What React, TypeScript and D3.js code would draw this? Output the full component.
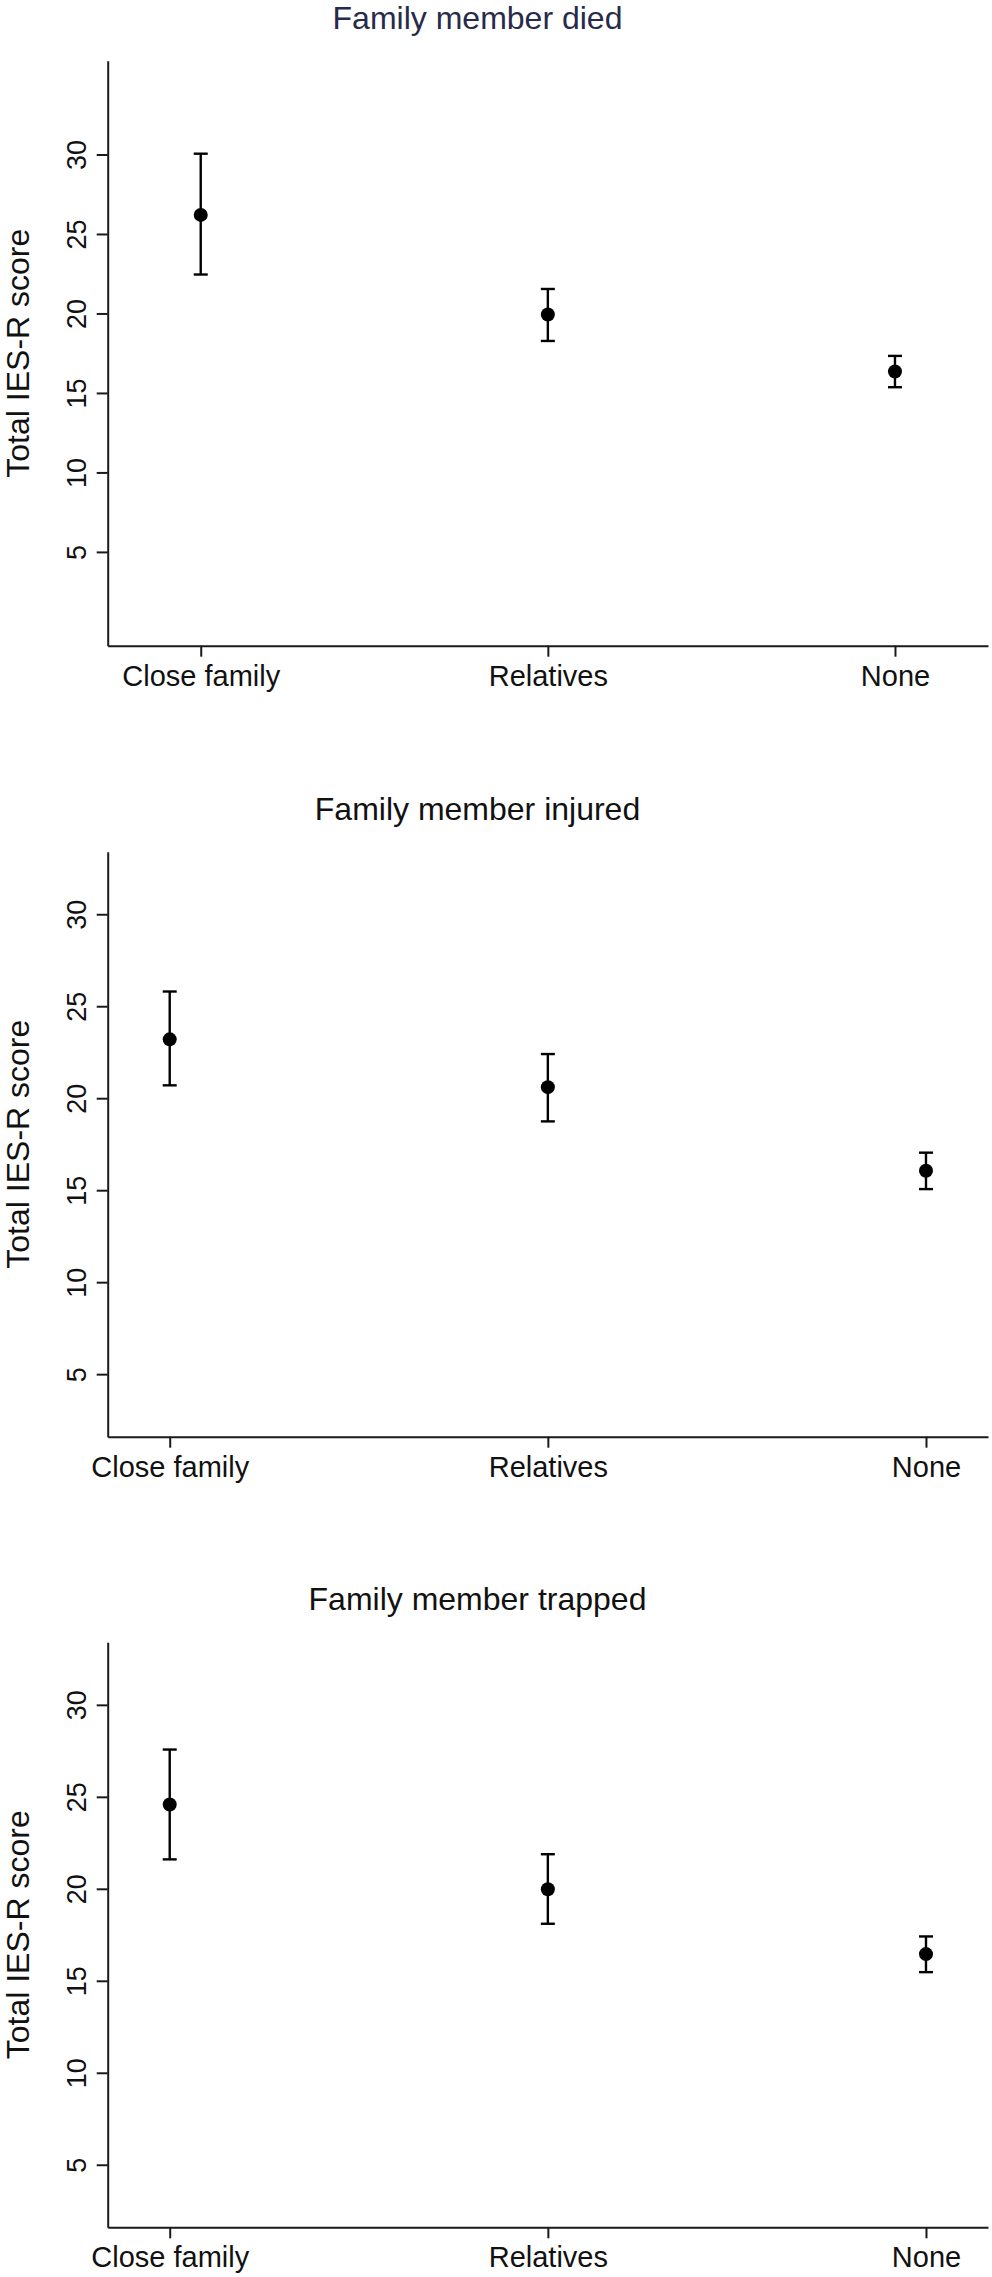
import { useEffect, useRef } from "react"
import * as d3 from "d3"

const WIDTH = 992
const HEIGHT = 2277
const FONT = "'Liberation Sans', Arial, Helvetica, sans-serif"

const categories = ["Close family", "Relatives", "None"]
const panelTitles = ["Family member died", "Family member injured", "Family member trapped"]
const yTicks = [5, 10, 15, 20, 25, 30]
const yLabel = "Total IES-R score"

// mean and 95% CI per category
const diedMean = [26.2, 19.93, 16.35]
const diedLow = [22.45, 18.27, 15.36]
const diedHigh = [30.05, 21.54, 17.33]

const injuredMean = [23.2, 20.6, 16.06]
const injuredLow = [20.7, 18.74, 15.06]
const injuredHigh = [25.8, 22.4, 17.04]

const trappedMean = [24.58, 19.98, 16.45]
const trappedLow = [21.6, 18.1, 15.47]
const trappedHigh = [27.57, 21.88, 17.41]

const yDomains: [number, number][] = [
  [-0.9, 35.9],
  [1.6, 33.4],
  [1.6, 33.4],
]

// layout per panel
const panels = [
  { top: 60.7, xPad: 0.268, titleColor: "#272b4a" },
  { top: 851.7, xPad: 0.164, titleColor: "#111" },
  { top: 1642.3, xPad: 0.164, titleColor: "#111" },
]
const axisHeight = 585
const left = 107.7
const right = 988

interface Row {
  cat: string
  mean: number
  low: number
  high: number
}

const series = [
  { mean: diedMean, low: diedLow, high: diedHigh },
  { mean: injuredMean, low: injuredLow, high: injuredHigh },
  { mean: trappedMean, low: trappedLow, high: trappedHigh },
]

export default function App() {
  const svgRef = useRef<SVGSVGElement | null>(null)

  useEffect(() => {
    if (!svgRef.current) return
    const svg = d3.select(svgRef.current)
    svg.selectAll("*").remove()

    panels.forEach((p, pi) => {
      const bottom = p.top + axisHeight
      const x = d3.scalePoint<string>().domain(categories).range([left, right]).padding(p.xPad)
      const y = d3.scaleLinear().domain(yDomains[pi]).range([bottom, p.top])
      const s = series[pi]
      const rows: Row[] = categories.map((c, i) => ({ cat: c, mean: s.mean[i], low: s.low[i], high: s.high[i] }))

      const g = svg.append("g").attr("class", `panel-${pi}`)

      g.append("text")
        .attr("x", 477.5)
        .attr("y", p.top - 32)
        .attr("text-anchor", "middle")
        .style("font-family", FONT)
        .style("font-size", "32px")
        .style("fill", p.titleColor)
        .text(panelTitles[pi])

      const yAxis = g
        .append("g")
        .attr("transform", `translate(${left},0)`)
        .call(d3.axisLeft(y).tickValues(yTicks).tickSize(11).tickSizeOuter(0))
      yAxis.select("path.domain").attr("stroke", "#1a1a1a").attr("stroke-width", 2)
      yAxis.selectAll(".tick line").attr("stroke", "#1a1a1a").attr("stroke-width", 2)
      yAxis
        .selectAll<SVGTextElement, number>(".tick text")
        .attr("x", 0)
        .attr("y", -21.7)
        .attr("dy", null)
        .attr("transform", "rotate(-90)")
        .attr("text-anchor", "middle")
        .style("font-family", FONT)
        .style("font-size", "27px")
        .style("fill", "#111")

      const xAxis = g
        .append("g")
        .attr("transform", `translate(0,${bottom})`)
        .call(d3.axisBottom(x).tickSize(11).tickSizeOuter(0))
      xAxis.select("path.domain").attr("stroke", "#1a1a1a").attr("stroke-width", 2)
      xAxis.selectAll(".tick line").attr("stroke", "#1a1a1a").attr("stroke-width", 2)
      xAxis
        .selectAll(".tick text")
        .attr("y", 40)
        .attr("dy", null)
        .style("font-family", FONT)
        .style("font-size", "29px")
        .style("fill", "#111")

      g.append("text")
        .attr("transform", `translate(29,${(p.top + bottom) / 2}) rotate(-90)`)
        .attr("text-anchor", "middle")
        .style("font-family", FONT)
        .style("font-size", "32px")
        .style("fill", "#111")
        .text(yLabel)

      const marks = g.append("g").attr("class", "marks")
      const bar = marks.selectAll("g.bar").data(rows).join("g").attr("class", "bar")
      bar
        .append("line")
        .attr("x1", (d) => x(d.cat)!)
        .attr("x2", (d) => x(d.cat)!)
        .attr("y1", (d) => y(d.low))
        .attr("y2", (d) => y(d.high))
        .attr("stroke", "#000")
        .attr("stroke-width", 2.4)
      bar
        .selectAll("line.cap")
        .data((d) => [
          { cat: d.cat, v: d.low },
          { cat: d.cat, v: d.high },
        ])
        .join("line")
        .attr("class", "cap")
        .attr("x1", (d) => x(d.cat)! - 7)
        .attr("x2", (d) => x(d.cat)! + 7)
        .attr("y1", (d) => y(d.v))
        .attr("y2", (d) => y(d.v))
        .attr("stroke", "#000")
        .attr("stroke-width", 2.4)
      bar
        .append("circle")
        .attr("cx", (d) => x(d.cat)!)
        .attr("cy", (d) => y(d.mean))
        .attr("r", 7)
        .attr("fill", "#000")
    })
  }, [])

  return (
    <svg
      ref={svgRef}
      width={WIDTH}
      height={HEIGHT}
      style={{ position: "absolute", left: 0, top: 0, background: "#fff" }}
    ></svg>
  )
}
